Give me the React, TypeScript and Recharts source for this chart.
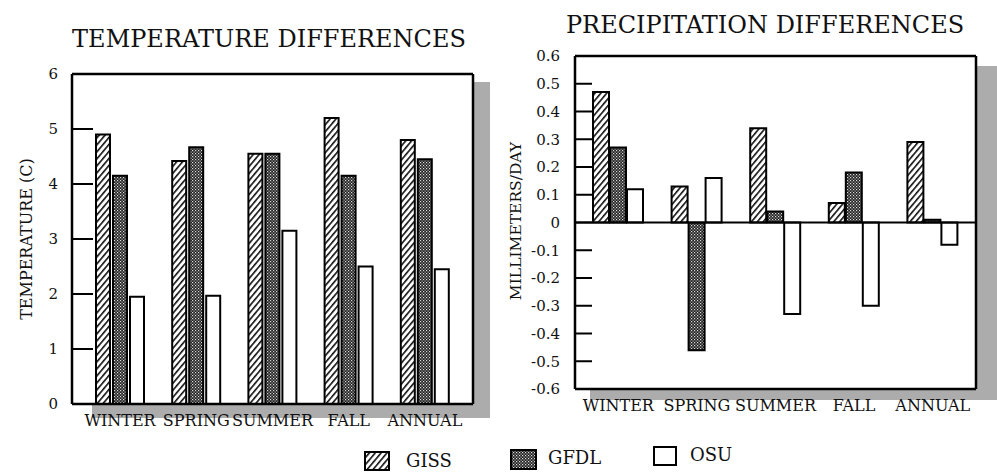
import { BarChart, Bar, XAxis, YAxis, ReferenceLine } from "recharts";

const seasons = ["WINTER", "SPRING", "SUMMER", "FALL", "ANNUAL"];

const tempGiss = [4.9, 4.42, 4.55, 5.2, 4.8];
const tempGfdl = [4.15, 4.67, 4.55, 4.15, 4.45];
const tempOsu = [1.95, 1.97, 3.15, 2.5, 2.45];

const precGiss = [0.47, 0.13, 0.34, 0.07, 0.29];
const precGfdl = [0.27, -0.46, 0.04, 0.18, 0.01];
const precOsu = [0.12, 0.16, -0.33, -0.3, -0.08];

const tempTicks = [0, 1, 2, 3, 4, 5, 6];
const precTicks = [0.6, 0.5, 0.4, 0.3, 0.2, 0.1, 0, -0.1, -0.2, -0.3, -0.4, -0.5, -0.6];

const tempData = seasons.map((s, i) => ({ season: s, giss: tempGiss[i], gfdl: tempGfdl[i], osu: tempOsu[i] }));
const precData = seasons.map((s, i) => ({ season: s, giss: precGiss[i], gfdl: precGfdl[i], osu: precOsu[i] }));

const FONT = "'DejaVu Serif', 'Liberation Serif', serif";
const SHADOW = "#acacac";

function Patterns({ p }: { p: string }) {
  return (
    <defs>
      <pattern id={p + "giss"} width="4.5" height="4.5" patternUnits="userSpaceOnUse" patternTransform="rotate(40)">
        <rect width="4.5" height="4.5" fill="#fff" />
        <rect width="1.6" height="4.5" fill="#111" />
      </pattern>
      <pattern id={p + "gfdl"} width="3" height="3" patternUnits="userSpaceOnUse">
        <rect width="3" height="3" fill="#222" />
        <rect x="0" y="0" width="1.2" height="1.2" fill="#ddd" />
        <rect x="1.5" y="1.5" width="1.2" height="1.2" fill="#bbb" />
      </pattern>
    </defs>
  );
}

// tick label plus a short inward tick mark
function inTick(margin: number, len: number, fmt: (v: number) => string) {
  return (props: any) => {
    const { x, y, payload } = props;
    const ax = x + margin;
    return (
      <g>
        <line x1={ax} x2={ax + len} y1={y} y2={y} stroke="#000" strokeWidth={2} />
        <text x={x} y={y} dy="0.35em" textAnchor="end" fontFamily={FONT} fontSize={15} fill="#111">
          {fmt(payload.value)}
        </text>
      </g>
    );
  };
}

const xTick = { fontFamily: FONT, fontSize: 16, fill: "#111" };
const frame = { stroke: "#000", strokeWidth: 2.5 };

function TempChart() {
  return (
    <BarChart width={500} height={474} data={tempData} margin={{ top: 74, right: 26, left: 22, bottom: 40 }} barSize={14} barGap={3}>
      <Patterns p="t" />
      <XAxis dataKey="season" height={30} padding={{ left: 10, right: 10 }} tickLine={false} tickSize={0} tickMargin={11}
        axisLine={frame} tick={xTick} interval={0} />
      <YAxis domain={[0, 6]} ticks={tempTicks} width={50} tickSize={0} tickMargin={14} tickLine={false}
        axisLine={frame} tick={inTick(14, 21, (v) => String(v))} />
      <YAxis yAxisId="edge" orientation="right" width={1} domain={[0, 1]} tick={false} tickLine={false} axisLine={frame} />
      <ReferenceLine y={6} stroke="#000" strokeWidth={2.5} />
      <Bar dataKey="giss" fill="url(#tgiss)" stroke="#000" strokeWidth={2} isAnimationActive={false} />
      <Bar dataKey="gfdl" fill="url(#tgfdl)" stroke="#000" strokeWidth={2} isAnimationActive={false} />
      <Bar dataKey="osu" fill="#fff" stroke="#000" strokeWidth={2} isAnimationActive={false} />
    </BarChart>
  );
}

function PrecChart() {
  return (
    <BarChart width={507} height={474} data={precData} margin={{ top: 56, right: 20, left: 25, bottom: 55 }} barSize={16} barGap={1}>
      <Patterns p="p" />
      <XAxis dataKey="season" height={30} padding={{ left: 4, right: 4 }} tickLine={false} tickSize={0} tickMargin={11}
        axisLine={frame} tick={xTick} interval={0} />
      <YAxis domain={[-0.6, 0.6]} ticks={precTicks} width={60} tickSize={0} tickMargin={15} tickLine={false}
        axisLine={frame} tick={inTick(15, 17, (v) => (v === 0 ? "0" : v.toFixed(1)))} />
      <YAxis yAxisId="edge" orientation="right" width={1} domain={[0, 1]} tick={false} tickLine={false} axisLine={frame} />
      <ReferenceLine y={0.6} stroke="#000" strokeWidth={2.5} />
      <ReferenceLine y={0} stroke="#000" strokeWidth={2} />
      <Bar dataKey="giss" fill="url(#pgiss)" stroke="#000" strokeWidth={2} isAnimationActive={false} />
      <Bar dataKey="gfdl" fill="url(#pgfdl)" stroke="#000" strokeWidth={2} isAnimationActive={false} />
      <Bar dataKey="osu" fill="#fff" stroke="#000" strokeWidth={2} isAnimationActive={false} />
    </BarChart>
  );
}

function Swatch({ kind, w, h }: { kind: string; w: number; h: number }) {
  return (
    <svg width={w} height={h} style={{ display: "block" }}>
      <Patterns p="l" />
      <rect x={1} y={1} width={w - 2} height={h - 2} fill={kind === "osu" ? "#fff" : `url(#l${kind})`} stroke="#000" strokeWidth={2} />
    </svg>
  );
}

const abs = (l: number, t: number, w: number, h: number, extra: any = {}) => ({
  position: "absolute" as const, left: l, top: t, width: w, height: h, ...extra,
});

export default function App() {
  const legendText = { fontFamily: FONT, fontSize: 18, color: "#111", lineHeight: "22px" };
  const title = { fontFamily: FONT, fontSize: 24, textAlign: "center", color: "#111", lineHeight: "34px", whiteSpace: "nowrap" };
  const yLabel = { fontFamily: FONT, textAlign: "center", color: "#111", transform: "rotate(-90deg)", lineHeight: "20px", whiteSpace: "nowrap" };
  return (
    <div style={{ position: "absolute", left: 0, top: 0, width: 997, height: 474, background: "#fff", overflow: "hidden" }}>
      {/* drop shadows */}
      <div style={abs(473, 82, 17, 334, { background: SHADOW })} />
      <div style={abs(92, 404, 398, 14, { background: SHADOW })} />
      <div style={abs(976, 66, 21, 334, { background: SHADOW })} />
      <div style={abs(590, 389, 407, 11, { background: SHADOW })} />

      <div style={abs(0, 0, 500, 474)}><TempChart /></div>
      <div style={abs(490, 0, 507, 474)}><PrecChart /></div>

      <div style={abs(39, 22, 460, 34, title)}>TEMPERATURE DIFFERENCES</div>
      <div style={abs(535, 8, 460, 34, title)}>PRECIPITATION DIFFERENCES</div>

      <div style={abs(-68, 229, 190, 20, { ...yLabel, fontSize: 16 })}>TEMPERATURE (C)</div>
      <div style={abs(421, 211, 190, 20, { ...yLabel, fontSize: 15.5 })}>MILLIMETERS/DAY</div>

      <div style={abs(364, 451, 26, 20)}><Swatch kind="giss" w={26} h={20} /></div>
      <div style={abs(406, 450, 60, 22, legendText)}>GISS</div>
      <div style={abs(510, 449, 27, 21)}><Swatch kind="gfdl" w={27} h={21} /></div>
      <div style={abs(548, 447, 70, 22, legendText)}>GFDL</div>
      <div style={abs(653, 446, 24, 20)}><Swatch kind="osu" w={24} h={20} /></div>
      <div style={abs(690, 444, 60, 22, legendText)}>OSU</div>
    </div>
  );
}
